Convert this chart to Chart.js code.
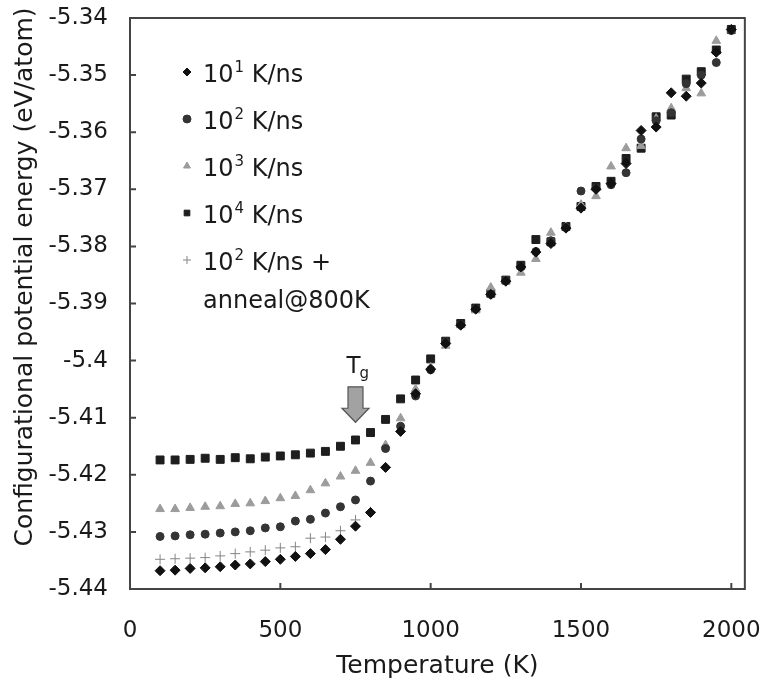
<!DOCTYPE html>
<html>
<head>
<meta charset="utf-8">
<script src="https://cdn.jsdelivr.net/npm/chart.js@4.4.1/dist/chart.umd.min.js"></script>
<style>
  body { margin: 0; background: #fff; }
  #wrap { width: 764px; height: 688px; }
</style>
</head>
<body>
<div id="wrap"><canvas id="c"></canvas></div>
<script>
// Temperatures (K) and configurational energies (eV/atom)
const temps = [100, 150, 200, 250, 300, 350, 400, 450, 500, 550, 600, 650, 700, 750, 800,
  850, 900, 950, 1000, 1050, 1100, 1150, 1200, 1250, 1300, 1350, 1400, 1450, 1500, 1550,
  1600, 1650, 1700, 1750, 1800, 1850, 1900, 1950, 2000];
const tempsAnneal = [100, 150, 200, 250, 300, 350, 400, 450, 500, 550, 600, 650, 700, 750, 800];

// 10^1 K/ns
const e1 = [-5.4368, -5.4367, -5.4364, -5.4363, -5.4361, -5.4358, -5.4356, -5.4352, -5.4348, -5.4343,
  -5.4338, -5.4331, -5.4313, -5.4290, -5.4266, -5.4187, -5.4124, -5.4058, -5.4015, -5.3970,
  -5.3938, -5.3910, -5.3884, -5.3861, -5.3836, -5.3810, -5.3795, -5.3768, -5.3733, -5.3700,
  -5.3690, -5.3655, -5.3597, -5.3591, -5.3531, -5.3537, -5.3514, -5.3460, -5.3420];
// 10^2 K/ns
const e2 = [-5.4308, -5.4307, -5.4305, -5.4304, -5.4302, -5.4300, -5.4298, -5.4293, -5.4291, -5.4281,
  -5.4278, -5.4267, -5.4256, -5.4244, -5.4211, -5.4154, -5.4115, -5.4062, -5.4016, -5.3968,
  -5.3937, -5.3909, -5.3884, -5.3860, -5.3836, -5.3809, -5.3790, -5.3767, -5.3703, -5.3698,
  -5.3692, -5.3671, -5.3612, -5.3580, -5.3566, -5.3515, -5.3500, -5.3478, -5.3422];
// 10^3 K/ns
const e3 = [-5.4260, -5.4260, -5.4258, -5.4256, -5.4255, -5.4251, -5.4250, -5.4246, -5.4241, -5.4237,
  -5.4227, -5.4215, -5.4203, -5.4193, -5.4179, -5.4148, -5.4101, -5.4050, -5.4012, -5.3974,
  -5.3938, -5.3912, -5.3872, -5.3860, -5.3846, -5.3822, -5.3776, -5.3766, -5.3727, -5.3712,
  -5.3660, -5.3628, -5.3624, -5.3576, -5.3558, -5.3523, -5.3532, -5.3440, -5.3421];
// 10^4 K/ns
const e4 = [-5.4174, -5.4174, -5.4173, -5.4171, -5.4173, -5.4170, -5.4172, -5.4169, -5.4167, -5.4165,
  -5.4162, -5.4159, -5.4150, -5.4139, -5.4126, -5.4103, -5.4067, -5.4034, -5.3997, -5.3966,
  -5.3935, -5.3908, -5.3882, -5.3859, -5.3833, -5.3788, -5.3792, -5.3765, -5.3730, -5.3695,
  -5.3686, -5.3646, -5.3628, -5.3573, -5.3570, -5.3507, -5.3494, -5.3456, -5.3420];
// 10^2 K/ns + anneal@800K
const eAnneal = [-5.4348, -5.4347, -5.4346, -5.4345, -5.4342, -5.4338, -5.4335, -5.4332, -5.4328,
  -5.4326, -5.4311, -5.4309, -5.4298, -5.4279, -5.4265];

const xTicks = [0, 500, 1000, 1500, 2000];
const yTicks = [-5.44, -5.43, -5.42, -5.41, -5.40, -5.39, -5.38, -5.37, -5.36, -5.35, -5.34];

// legend text: [base, superscript, rest, second line]
const legendText = [
  ['10', '1', ' K/ns'],
  ['10', '2', ' K/ns'],
  ['10', '3', ' K/ns'],
  ['10', '4', ' K/ns'],
  ['10', '2', ' K/ns +', 'anneal@800K']
];

// Tg arrow: temperature and energy span
const tgT = 750;
const tgTop = -5.4046;
const tgTip = -5.4108;

const FONT = '"DejaVu Sans", "Liberation Sans", Arial, sans-serif';

const pts = (xs, ys) => xs.map((t, i) => ({ x: t, y: ys[i] }));

function series(label, xs, ys, style, color, radius, border) {
  return {
    label: label,
    data: pts(xs, ys),
    pointStyle: style,
    pointRadius: radius,
    pointHoverRadius: radius,
    backgroundColor: color,
    borderColor: color,
    pointBorderWidth: border,
    showLine: false
  };
}

const datasets = [
  series('10¹ K/ns', temps, e1, 'rectRot', '#111111', 5, 1),
  series('10² K/ns', temps, e2, 'circle', '#343434', 4, 1),
  series('10³ K/ns', temps, e3, 'triangle', '#9c9c9c', 5, 1),
  series('10⁴ K/ns', temps, e4, 'rect', '#1e1e1e', 5.6, 1),
  series('10² K/ns + anneal@800K', tempsAnneal, eAnneal, 'cross', '#858585', 5, 1)
];

// box frame, inside ticks, y title, legend and the Tg arrow
const decor = {
  id: 'decor',
  afterDraw(chart) {
    const { ctx, chartArea: a, scales: { x, y } } = chart;
    ctx.save();

    ctx.strokeStyle = '#444';
    ctx.lineWidth = 2;
    ctx.strokeRect(a.left, a.top, a.right - a.left, a.bottom - a.top);
    ctx.beginPath();
    xTicks.forEach(v => {
      const px = x.getPixelForValue(v);
      ctx.moveTo(px, a.bottom);
      ctx.lineTo(px, a.bottom - 6);
    });
    yTicks.forEach(v => {
      const py = y.getPixelForValue(v);
      ctx.moveTo(a.left, py);
      ctx.lineTo(a.left + 6, py);
    });
    ctx.stroke();

    // y axis title
    ctx.fillStyle = '#1a1a1a';
    ctx.font = '25px ' + FONT;
    ctx.textAlign = 'center';
    ctx.textBaseline = 'middle';
    ctx.save();
    ctx.translate(25, 277);
    ctx.rotate(-Math.PI / 2);
    ctx.fillText('Configurational potential energy (eV/atom)', 0, 0);
    ctx.restore();

    // legend
    ctx.textAlign = 'left';
    ctx.textBaseline = 'alphabetic';
    const lx = a.left + 57;
    const tx0 = a.left + 73;
    legendText.forEach((parts, i) => {
      const base = a.top + 64 + i * 47;
      const ds = chart.data.datasets[i];
      ctx.fillStyle = ds.backgroundColor;
      ctx.strokeStyle = ds.borderColor;
      ctx.lineWidth = 1;
      Chart.helpers.drawPoint(ctx, { pointStyle: ds.pointStyle, radius: 4, rotation: 0, borderWidth: 1 }, lx, base - 10);
      ctx.fillStyle = '#1a1a1a';
      let tx = tx0;
      ctx.font = '24px ' + FONT;
      ctx.fillText(parts[0], tx, base);
      tx += ctx.measureText(parts[0]).width + 1;
      ctx.font = '15px ' + FONT;
      ctx.fillText(parts[1], tx, base - 10);
      tx += ctx.measureText(parts[1]).width;
      ctx.font = '24px ' + FONT;
      ctx.fillText(parts[2], tx, base);
      if (parts[3]) ctx.fillText(parts[3], tx0, base + 38);
    });

    // Tg arrow
    const xc = x.getPixelForValue(tgT);
    const top = y.getPixelForValue(tgTop);
    const tip = y.getPixelForValue(tgTip);
    const headH = 14;
    ctx.beginPath();
    ctx.moveTo(xc - 7.5, top);
    ctx.lineTo(xc + 7.5, top);
    ctx.lineTo(xc + 7.5, tip - headH);
    ctx.lineTo(xc + 13.5, tip - headH);
    ctx.lineTo(xc, tip);
    ctx.lineTo(xc - 13.5, tip - headH);
    ctx.lineTo(xc - 7.5, tip - headH);
    ctx.closePath();
    ctx.fillStyle = '#a2a2a2';
    ctx.fill();
    ctx.strokeStyle = '#555';
    ctx.lineWidth = 1.2;
    ctx.stroke();

    ctx.fillStyle = '#1a1a1a';
    ctx.font = '23px ' + FONT;
    ctx.fillText('T', xc - 9, top - 14);
    ctx.font = '15px ' + FONT;
    ctx.fillText('g', xc + 4, top - 9);

    ctx.restore();
  }
};

// invisible tick marks push the labels away from the axis without adding edge padding
const hiddenGrid = (len) => ({
  display: true,
  drawOnChartArea: false,
  drawTicks: true,
  tickLength: len,
  tickColor: 'rgba(0,0,0,0)',
  color: 'rgba(0,0,0,0)'
});

new Chart(document.getElementById('c'), {
  type: 'scatter',
  data: { datasets: datasets },
  options: {
    responsive: true,
    maintainAspectRatio: false,
    animation: false,
    layout: { padding: { top: 18, right: 19, left: 0, bottom: 0 } },
    plugins: { legend: { display: false }, tooltip: { enabled: false } },
    scales: {
      x: {
        type: 'linear',
        min: 0,
        max: 2045,
        afterBuildTicks: s => { s.ticks = xTicks.map(v => ({ value: v })); },
        afterFit: s => { s.height = 99; },
        grid: hiddenGrid(25),
        border: { display: false },
        ticks: {
          color: '#1a1a1a',
          padding: 3,
          font: { family: FONT, size: 23 },
          callback: v => String(v)
        },
        title: {
          display: true,
          text: 'Temperature (K)',
          color: '#1a1a1a',
          font: { family: FONT, size: 25 },
          padding: { bottom: 7, top: 0 }
        }
      },
      y: {
        type: 'linear',
        min: -5.44,
        max: -5.34,
        afterBuildTicks: s => { s.ticks = yTicks.map(v => ({ value: v })); },
        afterFit: s => { s.width = 130; },
        grid: hiddenGrid(19),
        border: { display: false },
        ticks: {
          color: '#1a1a1a',
          padding: 3,
          font: { family: FONT, size: 23 },
          callback: v => String(+v.toFixed(2))
        }
      }
    }
  },
  plugins: [decor]
});
</script>
</body>
</html>
